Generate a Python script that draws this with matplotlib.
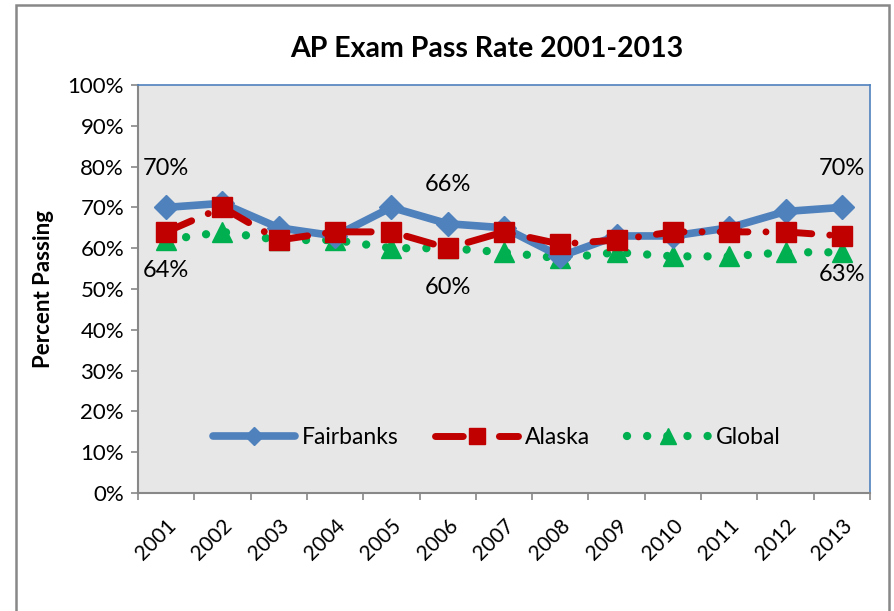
import matplotlib
matplotlib.use("Agg")
import matplotlib.pyplot as plt
from matplotlib.patches import Rectangle
from matplotlib.ticker import FixedLocator, PercentFormatter

plt.rcParams['font.family'] = ['Lato', 'DejaVu Sans']
plt.rcParams['lines.scale_dashes'] = False

years = ['2001', '2002', '2003', '2004', '2005', '2006', '2007',
         '2008', '2009', '2010', '2011', '2012', '2013']
fairbanks = [70, 71, 65, 63, 70, 66, 65, 58, 63, 63, 65, 69, 70]
alaska = [64, 70, 62, 64, 64, 60, 64, 61, 62, 64, 64, 64, 63]
global_rate = [62, 64, 62, 62, 60, 60, 59, 57.5, 59, 58, 58, 59, 59]
labeled_idx = [0, 5, 12]

title = 'AP Exam Pass Rate 2001-2013'
ylabel = 'Percent Passing'

fig = plt.figure(figsize=(8.95, 6.11), dpi=100)
ax = fig.add_axes([138/895, 1 - 493/611, (870-138)/895, (493-85)/611])
ax.set_facecolor('#E7E7E7')

x = list(range(len(years)))
blue = '#4F81BD'
red = '#C00000'
green = '#00B050'

ax.plot(x, global_rate, color=green, lw=6, dashes=(0.01, 14.5),
        dash_capstyle='round', marker='^', ms=15, label='Global', zorder=2)
ax.plot(x, fairbanks, color=blue, lw=5.5, solid_capstyle='round',
        marker='D', ms=12, label='Fairbanks', zorder=3)
ax.plot(x, alaska, color=red, lw=5, dashes=(20, 13, 0.01, 13),
        dash_capstyle='round', marker='s', ms=14, label='Alaska', zorder=4)

for i in labeled_idx:
    ax.annotate(f'{fairbanks[i]:.0f}%', (x[i], fairbanks[i]), xytext=(0, 28),
                textcoords='offset points', ha='center', va='center', fontsize=17)
    ax.annotate(f'{alaska[i]:.0f}%', (x[i], alaska[i]), xytext=(0, -28),
                textcoords='offset points', ha='center', va='center', fontsize=17)

ax.set_xlim(-0.5, len(years) - 0.5)
ax.set_ylim(0, 100)
ax.yaxis.set_major_locator(FixedLocator(range(0, 101, 10)))
ax.yaxis.set_major_formatter(PercentFormatter(decimals=0))
ax.set_xticks(x)
ax.set_xticklabels(years, rotation=45, ha='right', rotation_mode='anchor')
ax.set_xticks([i - 0.5 for i in range(len(years) + 1)], minor=True)
ax.tick_params(axis='x', which='major', length=0, pad=16, labelsize=15)
ax.tick_params(axis='x', which='minor', length=5, color='#888888', width=1.2)
ax.tick_params(axis='y', length=5, color='#888888', width=1.2, labelsize=16, pad=5)

for s in ['left', 'bottom']:
    ax.spines[s].set_color('#888888')
    ax.spines[s].set_linewidth(1.5)
for s in ['top', 'right']:
    ax.spines[s].set_color(blue)
    ax.spines[s].set_linewidth(1.2)

ax.set_title(title, fontsize=20.5, fontweight='bold', pad=20, x=0.477)
ax.set_ylabel(ylabel, fontsize=16, fontweight='bold', labelpad=10)

handles, labels = ax.get_legend_handles_labels()
order = [1, 2, 0]
ax.legend([handles[k] for k in order], [labels[k] for k in order],
          loc='lower center', bbox_to_anchor=(0.49, 0.06), ncol=3, frameon=False,
          fontsize=16.5, handlelength=3.6, columnspacing=1.6, handletextpad=0.3,
          markerscale=0.8)

fig.patches.append(Rectangle((16/895, -0.05), (889-16)/895, 1 - 5/611 + 0.05,
                             transform=fig.transFigure, fill=False,
                             edgecolor='#888888', lw=1.8))

fig.savefig('out.png', dpi=100)
